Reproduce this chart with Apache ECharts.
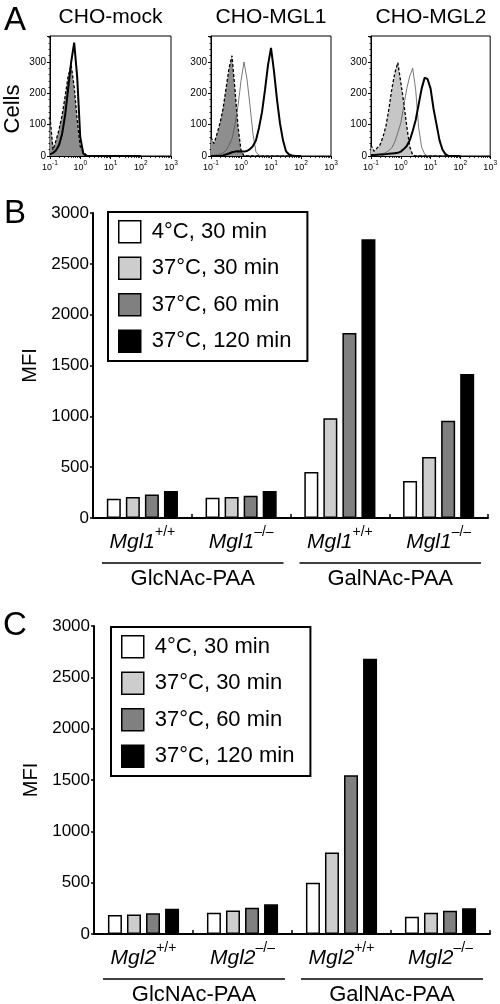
<!DOCTYPE html>
<html><head><meta charset="utf-8">
<script src="https://cdn.jsdelivr.net/npm/echarts@6/dist/echarts.min.js"></script>
<style>html,body{margin:0;padding:0;background:#fff}#c{width:500px;height:1004px}</style>
</head><body><div id="c"></div>
<script>
// ---------- Panel A: flow cytometry histograms (x = log10 fluorescence, y = cells)
const logGrid = [-1.0,-0.9,-0.8,-0.7,-0.6,-0.5,-0.4,-0.3,-0.2,-0.1,0.0,0.1,0.2,0.3,0.4,0.5,0.6,0.7,0.8,0.9,1.0,1.1,1.2,1.3,1.4,1.5,1.6,1.7,1.8,1.9,2.0];
const mockControl = [125,20,50,85,130,190,255,290,220,115,30,12,3,0,0,0,0,0,0,0,0,0,0,0,0,0,0,0,0,0,0];
const mockStained = [5,10,18,35,70,130,215,300,362,250,60,8,0,0,0,0,0,0,0,0,0,0,0,0,0,0,0,0,0,0,0];
const mgl1Control = [60,40,70,105,150,215,280,320,211,95,18,0,0,0,0,0,0,0,0,0,0,0,0,0,0,0,0,0,0,0,0];
const mgl1Thin    = [0,2,4,6,10,18,35,55,100,160,240,300,245,160,70,12,3,0,0,0,0,0,0,0,0,0,0,0,0,0,0];
const mgl1Thick   = [0,0,0,0,2,5,8,12,14,15,14,14,16,22,32,50,90,140,211,290,345,270,180,104,50,15,5,2,0,0,0];
const mgl2Control = [35,15,25,35,60,95,150,215,265,298,235,170,95,30,3,0,0,0,0,0,0,0,0,0,0,0,0,0,0,0,0];
const mgl2Thin    = [0,2,3,5,8,11,18,26,45,75,105,160,215,255,280,211,90,28,6,0,0,0,0,0,0,0,0,0,0,0,0];
const mgl2Thick   = [3,3,4,5,5,6,7,8,9,10,14,22,32,50,80,115,165,215,250,245,215,150,100,50,20,6,0,0,0,0,0];
const panelATitles = ['CHO-mock','CHO-MGL1','CHO-MGL2'];
const decadeExps = [-1,0,1,2,3];
const cellTicks = [0,100,200,300];

// ---------- Panels B and C: MFI bars
const legendNames = ['4°C, 30 min','37°C, 30 min','37°C, 60 min','37°C, 120 min'];
const genoB = ['Mgl1','Mgl1','Mgl1','Mgl1'];
const genoC = ['Mgl2','Mgl2','Mgl2','Mgl2'];
const genoSup = ['+/+','–/–','+/+','–/–'];
const groupNames = ['GlcNAc-PAA','GalNAc-PAA'];
const catsB = ['GlcNAc Mgl1+/+','GlcNAc Mgl1-/-','GalNAc Mgl1+/+','GalNAc Mgl1-/-'];
const catsC = ['GlcNAc Mgl2+/+','GlcNAc Mgl2-/-','GalNAc Mgl2+/+','GalNAc Mgl2-/-'];
const b4C30  = [190,200,452,364];
const b37C30 = [207,207,980,600];
const b37C60 = [230,220,1820,957];
const b37C120= [266,266,2741,1416];
const c4C30  = [185,208,500,169];
const c37C30 = [191,230,795,208];
const c37C60 = [201,256,1547,227];
const c37C120= [246,289,2682,250];
const mfiTicks = [0,500,1000,1500,2000,2500,3000];

const FONT = 'Liberation Sans, Arial, Helvetica, sans-serif';
const barColors = ['#ffffff','#cdcdcd','#808080','#000000'];

const chart = echarts.init(document.getElementById('c'), null, {renderer:'canvas'});

const aGrids = [
  {left:50, top:36, width:121, height:120},
  {left:211, top:36, width:120, height:120},
  {left:371, top:36, width:120, height:120}
];
const minorLogs = [];
for (let n = -1; n < 3; n++) for (let k = 2; k <= 9; k++) minorLogs.push(n + Math.log10(k));

const grids = aGrids.map(g => Object.assign({show:true, borderColor:'#000', borderWidth:1, backgroundColor:'transparent'}, g));
grids.push({left:93, right:12, top:213, bottom:486});
grids.push({left:94, right:10, top:626, bottom:70});

const xAxes = [], yAxes = [];
aGrids.forEach((g,i) => {
  xAxes.push({
    type:'value', gridIndex:i, min:-1, max:3, interval:1, position:'bottom',
    axisLine:{show:true, onZero:false, lineStyle:{color:'#000', width:1}},
    axisTick:{show:true, length:3, lineStyle:{color:'#000', width:1}, customValues: decadeExps},
    axisLabel:{customValues: decadeExps, margin:4, color:'#000',
      formatter: v => '{b|10}{s|' + v + '}',
      rich:{b:{fontSize:9, fontFamily:FONT, color:'#000', padding:[3,0,0,0]},
            s:{fontSize:6.5, fontFamily:FONT, color:'#000', verticalAlign:'top'}}},
    splitLine:{show:false}
  });
});
aGrids.forEach((g,i) => {
  xAxes.push({
    type:'value', gridIndex:i, min:-1, max:3, position:'bottom',
    axisLine:{show:false, onZero:false}, axisLabel:{show:false}, splitLine:{show:false},
    axisTick:{show:true, length:2, lineStyle:{color:'#000', width:0.8}, customValues: minorLogs}
  });
});
aGrids.forEach((g,i) => {
  yAxes.push({
    type:'value', gridIndex:i, min:0, max:383, interval:100, position:'left',
    axisLine:{show:true, onZero:false, lineStyle:{color:'#000', width:1}},
    axisTick:{show:true, length:3, lineStyle:{color:'#000'}},
    minorTick:{show:true, splitNumber:5, length:1.5, lineStyle:{color:'#000', width:0.8}},
    axisLabel:{fontSize:10, fontFamily:FONT, color:'#000', margin:4,
      formatter: v => cellTicks.indexOf(v) >= 0 ? String(v) : ''},
    splitLine:{show:false}
  });
});

function catAxis(gridIndex, cats, geno) {
  return {
    type:'category', gridIndex, data:cats, boundaryGap:true,
    axisLine:{show:true, onZero:false, lineStyle:{color:'#000', width:2}},
    axisTick:{show:true, inside:true, length:4, lineStyle:{color:'#000', width:1.5}},
    axisLabel:{margin:7, interval:0,
      formatter:(v, idx) => '{g|' + geno[idx] + '}{s|' + genoSup[idx] + '}',
      rich:{g:{fontSize:21, fontStyle:'italic', fontFamily:FONT, color:'#000', padding:[7,0,0,0]},
            s:{fontSize:14, fontFamily:FONT, color:'#000', verticalAlign:'top'}}},
    splitLine:{show:false}
  };
}
xAxes.push(catAxis(3, catsB, genoB));
xAxes.push(catAxis(4, catsC, genoC));
function mfiAxis(gridIndex) {
  return {
    type:'value', gridIndex, min:0, max:3000, interval:500,
    name:'MFI', nameLocation:'middle', nameRotate:90, nameGap:53,
    nameTextStyle:{fontSize:20, fontFamily:FONT, color:'#000'},
    axisLine:{show:true, onZero:false, lineStyle:{color:'#000', width:2}},
    axisTick:{show:true, length:3, lineStyle:{color:'#000', width:1.5}},
    axisLabel:{fontSize:17, fontFamily:FONT, color:'#000', margin:4, formatter: v => String(v)},
    splitLine:{show:false}
  };
}
yAxes.push(mfiAxis(3));
yAxes.push(mfiAxis(4));

const series = [];
function pairs(vals){ return logGrid.map((x,i) => [x, vals[i]]); }
const panelACurves = [
  {control:mockControl, fill:'#8e8e8e', thin:null, thick:mockStained},
  {control:mgl1Control, fill:'#8e8e8e', thin:mgl1Thin, thick:mgl1Thick},
  {control:mgl2Control, fill:'#c6c6c6', thin:mgl2Thin, thick:mgl2Thick}
];
panelACurves.forEach((p,i) => {
  series.push({type:'line', xAxisIndex:i, yAxisIndex:i, data:pairs(p.control), showSymbol:false, silent:true,
    lineStyle:{color:'#000', width:1.3, type:[3,2]}, areaStyle:{color:p.fill, opacity:1}, z:2});
  if (p.thin) series.push({type:'line', xAxisIndex:i, yAxisIndex:i, data:pairs(p.thin), showSymbol:false, silent:true,
    lineStyle:{color:'#555', width:0.8}, z:3});
  series.push({type:'line', xAxisIndex:i, yAxisIndex:i, data:pairs(p.thick), showSymbol:false, silent:true,
    lineStyle:{color:'#000', width:2}, z:4});
});
const bSets = [b4C30, b37C30, b37C60, b37C120];
const cSets = [c4C30, c37C30, c37C60, c37C120];
bSets.forEach((vals,k) => series.push({type:'bar', name:legendNames[k], xAxisIndex:6, yAxisIndex:3, data:vals,
  barWidth:14, barGap:'36%', itemStyle:{color:barColors[k], borderColor:'#000', borderWidth:1.5}}));
cSets.forEach((vals,k) => series.push({type:'bar', name:legendNames[k], xAxisIndex:7, yAxisIndex:4, data:vals,
  barWidth:14, barGap:'36%', itemStyle:{color:barColors[k], borderColor:'#000', borderWidth:1.5}}));

function legendAt(left, top) {
  return {data:legendNames, orient:'vertical', left, top, itemWidth:22, itemHeight:22, itemGap:13,
    icon:'rect', selectedMode:false, backgroundColor:'#fff',
    borderColor:'#000', borderWidth:2, padding:[8,16,8,10],
    itemStyle:{borderColor:'#000', borderWidth:1.5},
    textStyle:{fontSize:22, fontFamily:FONT, color:'#000', padding:[0,0,0,6]}};
}

chart.setOption({
  animation:false,
  backgroundColor:'#fff',
  grid:grids, xAxis:xAxes, yAxis:yAxes, series,
  legend:[legendAt(108,212), legendAt(111,627)]
});

// ---------- annotations: panel letters, titles, axis name, group brackets
const els = [];
const letter = (t, x, y) => ({type:'text', x, y, style:{text:t, fontSize:33, fontFamily:FONT, fill:'#000'}});
els.push(letter('A',4,4), letter('B',4,197), letter('C',3,609));
aGrids.forEach((g,i) => els.push({type:'text', x:g.left + g.width/2, y:17,
  style:{text:panelATitles[i], fontSize:21, fontFamily:FONT, fill:'#000', align:'center', verticalAlign:'middle'}}));
els.push({type:'text', x:13, y:109, rotation:Math.PI/2,
  style:{text:'Cells', fontSize:22, fontFamily:FONT, fill:'#000', align:'center', verticalAlign:'middle'}});
[[6,3],[7,4]].forEach(([xi,yi]) => {
  const cx = [0,1,2,3].map(k => chart.convertToPixel({xAxisIndex:xi}, k));
  const band = cx[1] - cx[0];
  const axisY = chart.convertToPixel({yAxisIndex:yi}, 0);
  groupNames.forEach((name,g) => {
    const x1 = cx[2*g] - band/2 + 9, x2 = cx[2*g+1] + band/2 - 7;
    els.push({type:'line', shape:{x1, y1:axisY+45, x2, y2:axisY+45}, style:{stroke:'#000', lineWidth:1.5}});
    els.push({type:'text', x:(x1+x2)/2, y:axisY+61,
      style:{text:name, fontSize:22, fontFamily:FONT, fill:'#000', align:'center', verticalAlign:'middle'}});
  });
});
chart.setOption({graphic:{elements:els}});
</script></body></html>
